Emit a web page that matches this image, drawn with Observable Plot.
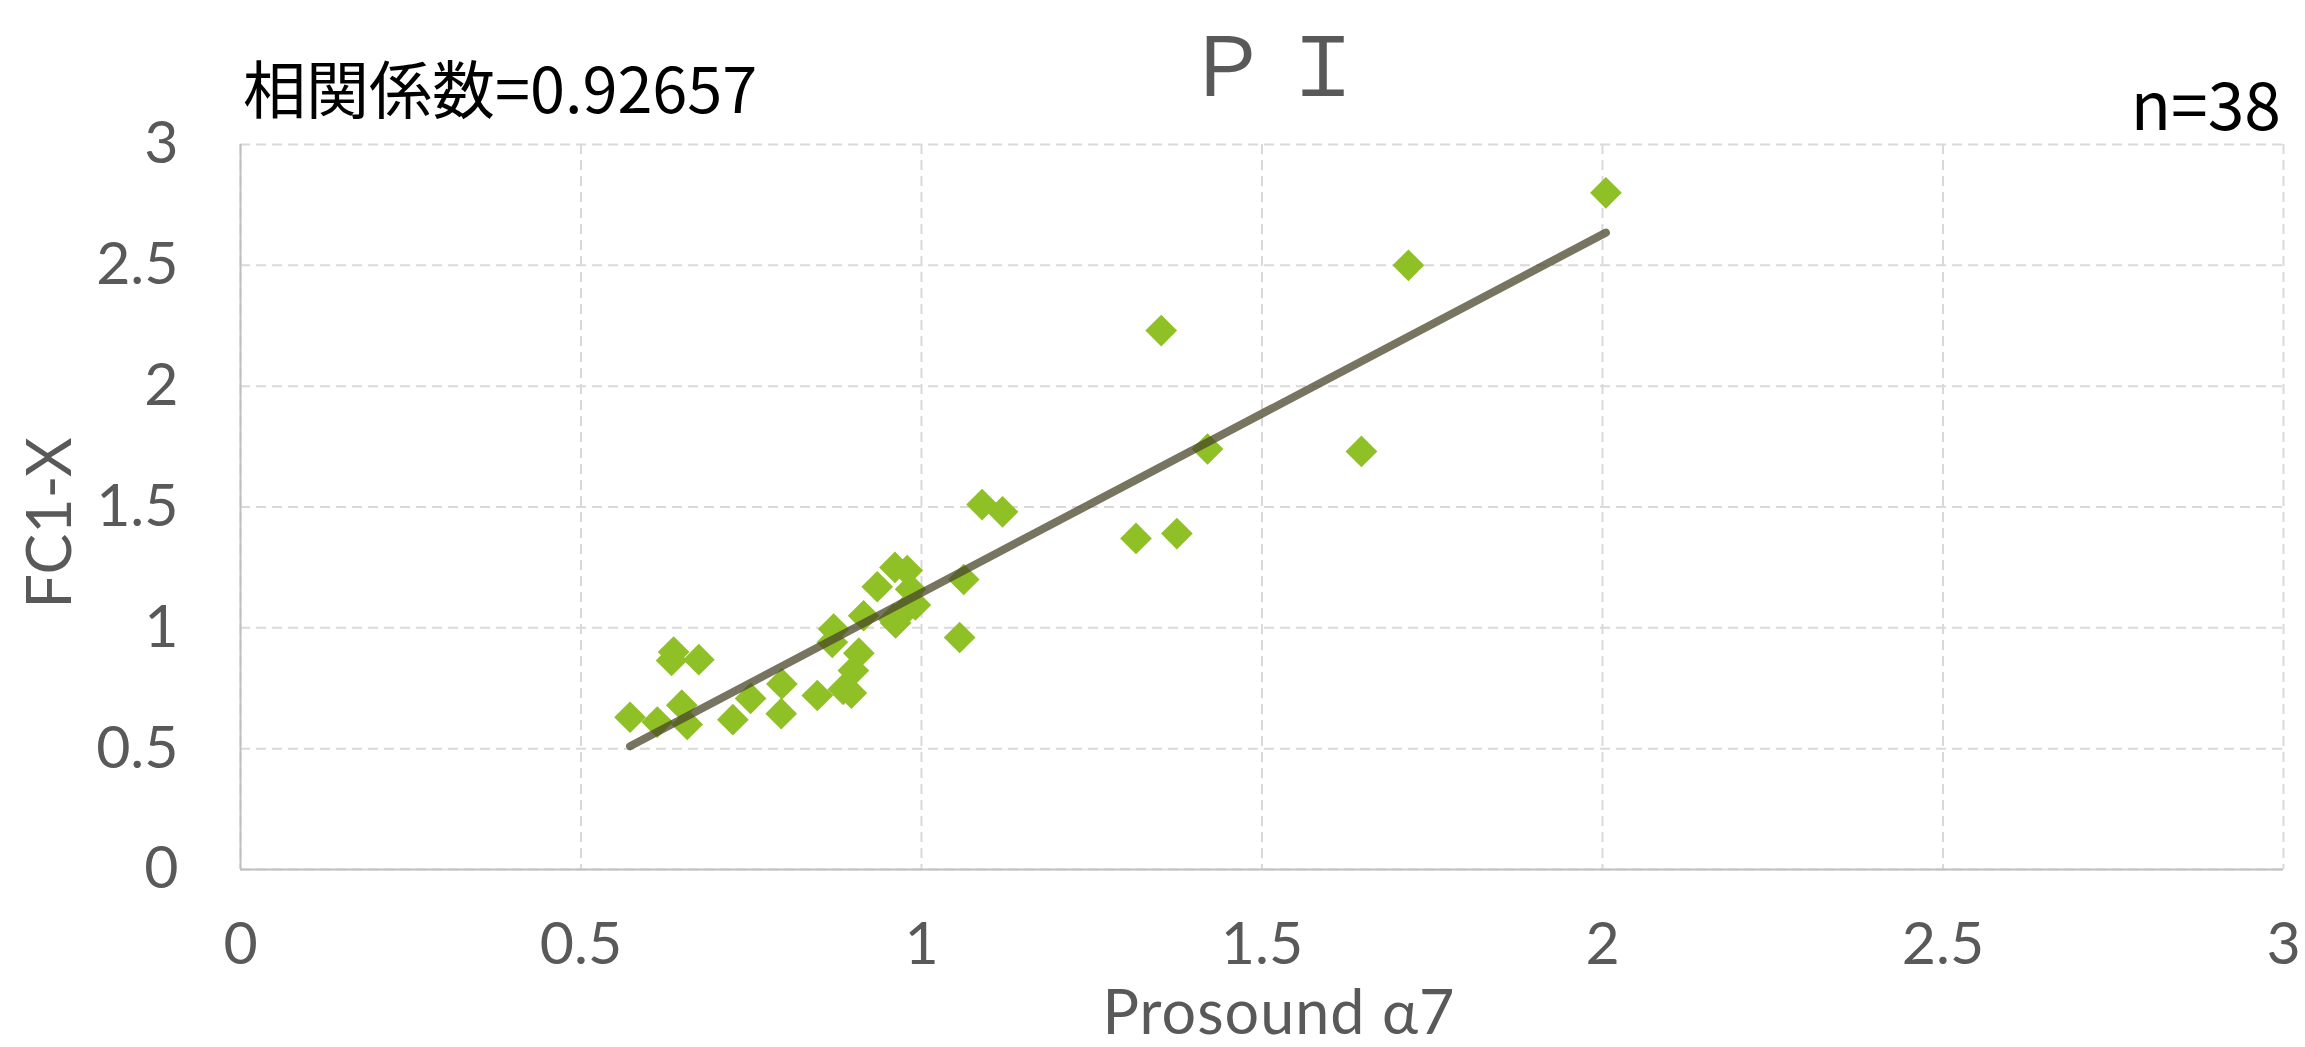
<!DOCTYPE html>
<html>
<head>
<meta charset="utf-8">
<script src="https://cdn.jsdelivr.net/npm/d3@7"></script>
<script src="https://cdn.jsdelivr.net/npm/@observablehq/plot@0.6"></script>
<style>
  html, body { margin: 0; padding: 0; background: #fff; }
  #wrap { position: relative; width: 2305px; height: 1047px; overflow: hidden; }
  #wrap svg { position: absolute; left: 0; top: 0; }
  .t { position: absolute; white-space: nowrap; line-height: 1; }
</style>
</head>
<body>
<div id="wrap">
  <div class="t" id="title" style="left:1282px; top:1px; line-height:normal; letter-spacing:14px; transform:translateX(-50%); font-family:'Noto Sans CJK JP'; font-size:82px; color:#595959;">ＰＩ</div>
  <div class="t" id="corr" style="left:243px; top:54px; font-family:'Noto Sans CJK JP'; font-size:63px; color:#000;">相関係数=0.92657</div>
  <div class="t" id="n" style="right:24px; top:68px; font-family:'Noto Sans CJK JP'; font-size:66px; color:#000;">n=38</div>
  <div class="t" id="xlab" style="left:1279px; top:980px; transform:translateX(-50%); font-family:Lato; font-size:61px; letter-spacing:1px; color:#595959;">Prosound α7</div>
  <div class="t" id="ylab" style="left:47px; top:523px; transform:translate(-50%,-50%) rotate(-90deg); font-family:Lato; font-size:61px; color:#595959;">FC1-X</div>
</div>
<script>
// Data
const prosound = [0.572,0.612,0.648,0.656,0.636,0.633,0.673,0.723,0.749,0.795,0.794,0.847,0.871,0.869,0.885,0.897,0.900,0.908,0.915,0.935,0.961,0.979,0.984,0.991,0.959,0.975,0.962,1.062,1.056,1.089,1.119,1.315,1.352,1.375,1.420,1.646,1.715,2.005];
const fc1x     = [0.63,0.61,0.68,0.60,0.90,0.865,0.868,0.62,0.708,0.768,0.645,0.72,0.995,0.94,0.745,0.73,0.823,0.895,1.05,1.17,1.25,1.237,1.16,1.095,1.036,1.07,1.02,1.20,0.96,1.51,1.48,1.37,2.23,1.39,1.74,1.73,2.50,2.80];
const xTicks = [0, 0.5, 1, 1.5, 2, 2.5, 3];
const yTicks = [0, 0.5, 1, 1.5, 2, 2.5, 3];
const xTickLabels = ["0", "0.5", "1", "1.5", "2", "2.5", "3"];
const yTickLabels = ["0", "0.5", "1", "1.5", "2", "2.5", "3"];

const data = prosound.map((x, i) => ({x, y: fc1x[i]}));

const plot = Plot.plot({
  width: 2305,
  height: 1047,
  marginLeft: 240,
  marginRight: 22,
  marginTop: 144,
  marginBottom: 178,
  style: {fontFamily: "Lato", fontSize: "59px", color: "#595959", background: "transparent"},
  x: {domain: [0, 3]},
  y: {domain: [0, 3]},
  marks: [
    Plot.gridX(xTicks, {stroke: "#d9d9d9", strokeOpacity: 1, strokeWidth: 2, strokeDasharray: "10,6"}),
    Plot.gridY(yTicks, {stroke: "#d9d9d9", strokeOpacity: 1, strokeWidth: 2, strokeDasharray: "10,6"}),
    Plot.ruleX([0], {stroke: "#bfbfbf", strokeWidth: 2}),
    Plot.ruleY([0], {stroke: "#bfbfbf", strokeWidth: 2}),
    Plot.axisX(xTicks, {tickSize: 0, tickPadding: 53, label: null, tickFormat: (d, i) => xTickLabels[i]}),
    Plot.axisY(yTicks, {tickSize: 0, tickPadding: 62, label: null, tickFormat: (d, i) => yTickLabels[i]}),
    Plot.dot(data, {x: "x", y: "y", symbol: "diamond2", r: 14.3, fill: "#8fc127", stroke: "none"}),
    Plot.linearRegressionY(data, {x: "x", y: "y", ci: 0, stroke: "rgb(74,70,42)", strokeOpacity: 0.75, strokeWidth: 8, strokeLinecap: "round"})
  ]
});
document.getElementById("wrap").prepend(plot);
</script>
</body>
</html>
